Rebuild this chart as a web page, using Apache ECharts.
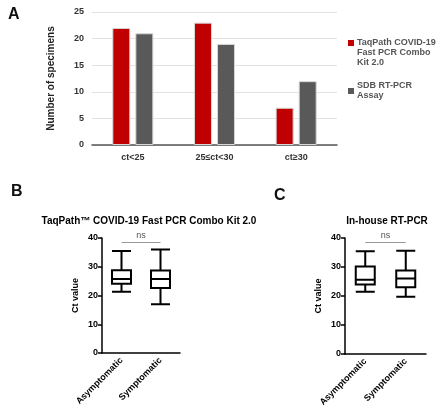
<!DOCTYPE html>
<html><head><meta charset="utf-8">
<script src="https://cdn.jsdelivr.net/npm/echarts@6/dist/echarts.min.js"></script>
<style>html,body{margin:0;padding:0;background:#fff}#c{width:440px;height:416px}</style>
</head><body><div id="c"></div>
<script>
const barCategories = ['ct<25', '25≤ct<30', 'ct≥30'];
const taqpathCounts = [22, 23, 7];
const sdbCounts = [21, 19, 12];
const seriesNames = ['TaqPath COVID-19\nFast PCR Combo\nKit 2.0', 'SDB RT-PCR\nAssay'];
const groups = ['Asymptomatic', 'Symptomatic'];
// [min, Q1, median, Q3, max]
const taqpathBox = [[21.3, 24.1, 25.7, 28.8, 35.5], [17.0, 22.6, 25.7, 28.7, 36.0]];
const inhouseBox = [[21.5, 24.0, 25.6, 30.2, 35.4], [19.7, 23.0, 26.0, 28.8, 35.6]];
const ctTicks = [0, 10, 20, 30, 40];

const FONT = 'Liberation Sans, Arial, sans-serif';
const chart = echarts.init(document.getElementById('c'));
const boxAxisX = (gi) => ({
  type: 'category', gridIndex: gi, data: groups,
  axisLine: {lineStyle: {color: '#000', width: 1.5}},
  axisTick: {alignWithLabel: true, length: 4, lineStyle: {color: '#000', width: 1.5}},
  axisLabel: {rotate: 45, fontSize: 9, fontWeight: 'bold', color: '#000', fontFamily: FONT, margin: 6}
});
const boxAxisY = (gi) => ({
  type: 'value', gridIndex: gi, min: ctTicks[0], max: ctTicks[ctTicks.length - 1], interval: 10,
  name: 'Ct value', nameLocation: 'middle', nameGap: 22,
  nameTextStyle: {fontSize: 9, fontWeight: 'bold', color: '#000', fontFamily: FONT},
  axisLine: {show: true, lineStyle: {color: '#000', width: 1.5}},
  axisTick: {show: true, length: 4, lineStyle: {color: '#000', width: 1.5}},
  axisLabel: {fontSize: 9, fontWeight: 'bold', color: '#000', fontFamily: FONT, margin: 4},
  splitLine: {show: false}
});
const nsLine = {
  symbol: 'none', silent: true,
  lineStyle: {color: '#999', width: 1, type: 'solid'},
  label: {show: true, position: 'middle', formatter: 'ns', color: '#555', fontSize: 9, fontFamily: FONT, distance: 2},
  data: [[{coord: [0, 38.5]}, {coord: [1, 38.5]}]]
};
const boxStyle = {color: '#fff', borderColor: '#000', borderWidth: 2};
const legendText = {fontSize: 9, fontWeight: 'bold', color: '#555', lineHeight: 10, fontFamily: FONT, padding: [0, 0, 0, -2]};

chart.setOption({
  backgroundColor: '#fff',
  animation: false,
  textStyle: {fontFamily: FONT},
  title: [
    {text: 'A', left: 3, top: 2, textStyle: {fontSize: 16, fontWeight: 'bold', color: '#111', fontFamily: FONT}},
    {text: 'B', left: 6, top: 179, textStyle: {fontSize: 16, fontWeight: 'bold', color: '#111', fontFamily: FONT}},
    {text: 'C', left: 269, top: 183, textStyle: {fontSize: 16, fontWeight: 'bold', color: '#111', fontFamily: FONT}},
    {text: 'TaqPath™ COVID-19 Fast PCR Combo Kit 2.0', left: 144, top: 211, textAlign: 'center',
     textStyle: {fontSize: 10, fontWeight: 'bold', color: '#000', fontFamily: FONT}},
    {text: 'In-house RT-PCR', left: 382, top: 211, textAlign: 'center',
     textStyle: {fontSize: 10, fontWeight: 'bold', color: '#000', fontFamily: FONT}}
  ],
  legend: [
    {orient: 'vertical', left: 343, top: 13, itemWidth: 6, itemHeight: 6, icon: 'rect',
     itemStyle: {borderWidth: 0}, formatter: (n) => '\n\n' + n,
     textStyle: legendText, data: [seriesNames[0]]},
    {orient: 'vertical', left: 343, top: 76, itemWidth: 6, itemHeight: 6, icon: 'rect',
     itemStyle: {borderWidth: 0},
     textStyle: legendText, data: [seriesNames[1]]}
  ],
  grid: [
    {left: 92, right: 103, top: 12, bottom: 271},
    {left: 102, right: 260, top: 238, bottom: 63},
    {left: 345, right: 14, top: 238, bottom: 62}
  ],
  xAxis: [
    {type: 'category', gridIndex: 0, data: barCategories,
     axisLine: {lineStyle: {color: '#555', width: 1.5}}, axisTick: {show: false},
     axisLabel: {fontSize: 9, fontWeight: 'bold', color: '#333', fontFamily: FONT, margin: 8}},
    boxAxisX(1), boxAxisX(2)
  ],
  yAxis: [
    {type: 'value', gridIndex: 0, min: 0, max: 25, interval: 5,
     name: 'Number of specimens', nameLocation: 'middle', nameGap: 36,
     nameTextStyle: {fontSize: 10, fontWeight: 'bold', color: '#222', fontFamily: FONT},
     axisLine: {show: false}, axisTick: {show: false},
     axisLabel: {fontSize: 9, fontWeight: 'bold', color: '#333', fontFamily: FONT, margin: 8},
     splitLine: {lineStyle: {color: '#e2e2e2', width: 1}}},
    boxAxisY(1), boxAxisY(2)
  ],
  series: [
    {name: seriesNames[0], type: 'bar', xAxisIndex: 0, yAxisIndex: 0, data: taqpathCounts,
     barWidth: 18, barGap: '28%', itemStyle: {color: '#c00000', borderColor: '#d8d8d8', borderWidth: 1}},
    {name: seriesNames[1], type: 'bar', xAxisIndex: 0, yAxisIndex: 0, data: sdbCounts,
     barWidth: 18, itemStyle: {color: '#595959', borderColor: '#d8d8d8', borderWidth: 1}},
    {type: 'boxplot', xAxisIndex: 1, yAxisIndex: 1, data: taqpathBox, boxWidth: [19, 19],
     itemStyle: boxStyle, markLine: nsLine},
    {type: 'boxplot', xAxisIndex: 2, yAxisIndex: 2, data: inhouseBox, boxWidth: [19, 19],
     itemStyle: boxStyle, markLine: nsLine}
  ]
});
</script></body></html>
